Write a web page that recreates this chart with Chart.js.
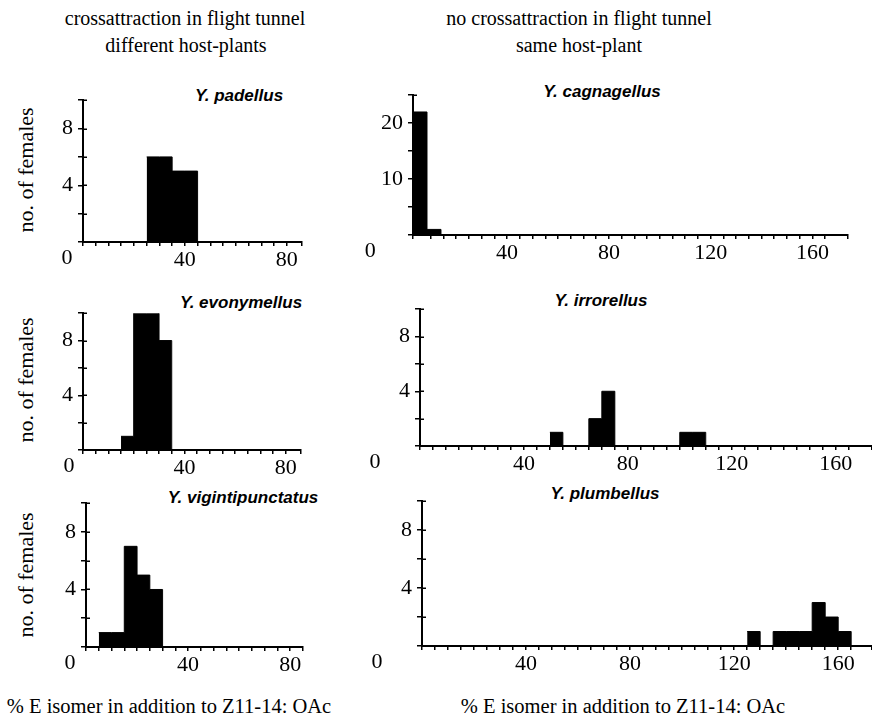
<!DOCTYPE html>
<html>
<head>
<meta charset="utf-8">
<title>Yponomeuta E-isomer histograms</title>
<script src="https://cdn.jsdelivr.net/npm/chart.js@4.4.1/dist/chart.umd.min.js"></script>
<style>
  html, body { margin: 0; padding: 0; background: #fff; overflow: hidden; }
  body { position: relative; width: 872px; height: 719px; font-family: "Liberation Serif", "Times New Roman", serif; color: #000; }
  .txt { position: absolute; white-space: nowrap; line-height: 1; transform: translate(-50%, -50%); }
  .head { font-size: 20px; }
  .foot { font-size: 20.5px; }
  .species { font-family: "Liberation Sans", Arial, sans-serif; font-weight: bold; font-style: italic; font-size: 17px; }
  .ylab { font-size: 22px; transform: translate(-50%, -50%) rotate(-90deg); }
  canvas { position: absolute; }
</style>
</head>
<body>

<div class="txt head" style="left:185px; top:18px;">crossattraction in flight tunnel</div>
<div class="txt head" style="left:186px; top:45px;">different host-plants</div>
<div class="txt head" style="left:579px; top:18px;">no crossattraction in flight tunnel</div>
<div class="txt head" style="left:579px; top:45px;">same host-plant</div>

<div class="txt ylab" style="left:26px; top:170px;">no. of females</div>
<div class="txt ylab" style="left:26px; top:380px;">no. of females</div>
<div class="txt ylab" style="left:26px; top:575px;">no. of females</div>

<div class="txt species" style="left:239px; top:95px;">Y. padellus</div>
<div class="txt species" style="left:602px; top:91px;">Y. cagnagellus</div>
<div class="txt species" style="left:241px; top:302px;">Y. evonymellus</div>
<div class="txt species" style="left:601px; top:300px;">Y. irrorellus</div>
<div class="txt species" style="left:243px; top:497px;">Y. vigintipunctatus</div>
<div class="txt species" style="left:605px; top:493px;">Y. plumbellus</div>

<div class="txt foot" style="left:169px; top:706px;">% E isomer in addition to Z11-14: OAc</div>
<div class="txt foot" style="left:623px; top:706px;">% E isomer in addition to Z11-14: OAc</div>

<canvas id="padellus"></canvas>
<canvas id="cagnagellus"></canvas>
<canvas id="evonymellus"></canvas>
<canvas id="irrorellus"></canvas>
<canvas id="vigintipunctatus"></canvas>
<canvas id="plumbellus"></canvas>

<script>
// --- data: bin edges (% E isomer) and no. of females in each bin ---
const padellusEdges = [25, 30, 35, 40, 45];
const padellusCounts = [6, 6, 5, 5];
const evonymellusEdges = [15, 20, 25, 30, 35];
const evonymellusCounts = [1, 10, 10, 8];
const vigintiEdges = [5, 10, 15, 20, 25, 30];
const vigintiCounts = [1, 1, 7, 5, 4];
const cagnagellusEdges = [3, 8.5, 14];
const cagnagellusCounts = [22, 1];
const irrorellusEdges = [50, 55, 65, 70, 75, 100, 105, 110];
const irrorellusCounts = [1, 0, 2, 4, 0, 1, 1];
const plumbellusEdges = [125, 130, 135, 140, 145, 150, 155, 160, 165];
const plumbellusCounts = [1, 0, 1, 1, 1, 3, 2, 1];

// tick labels
const leftXLabels = [40, 80];
const rightXLabels = [40, 80, 120, 160];
const femaleYLabels = [4, 8];
const cagnagellusYLabels = [10, 20];

(function () {
    'use strict';

    const AXIS_W = 60;   // space left of the plot for y labels
    const AXIS_H = 36;   // space under the plot for x labels
    const PAD_T = 12;
    const PAD_R = 12;
    const tickFont = { family: '"Liberation Serif", "Times New Roman", serif', size: 22 };

    // plot boxes [left, top, right, bottom] in page pixels
    const panels = [
        { id: 'padellus', edges: padellusEdges, counts: padellusCounts, xMin: 0, xMax: 86, yMax: 10, yStep: 2,
          xLabels: leftXLabels, yLabels: femaleYLabels, zeroShift: 16, box: [83, 94, 302, 242] },
        { id: 'evonymellus', edges: evonymellusEdges, counts: evonymellusCounts, xMin: 0, xMax: 86, yMax: 10, yStep: 2,
          xLabels: leftXLabels, yLabels: femaleYLabels, zeroShift: 14, box: [83, 307, 301, 450] },
        { id: 'vigintipunctatus', edges: vigintiEdges, counts: vigintiCounts, xMin: 0, xMax: 85, yMax: 10, yStep: 2,
          xLabels: leftXLabels, yLabels: femaleYLabels, zeroShift: 16, box: [86, 497, 303, 647] },
        { id: 'cagnagellus', edges: cagnagellusEdges, counts: cagnagellusCounts, xMin: 3, xMax: 174, yMax: 25, yStep: 5,
          xLabels: rightXLabels, yLabels: cagnagellusYLabels, zeroShift: 35, box: [413, 89, 848, 235] },
        { id: 'irrorellus', edges: irrorellusEdges, counts: irrorellusCounts, xMin: 0, xMax: 174, yMax: 10, yStep: 2,
          xLabels: rightXLabels, yLabels: femaleYLabels, zeroShift: 45, box: [420, 303, 872, 446] },
        { id: 'plumbellus', edges: plumbellusEdges, counts: plumbellusCounts, xMin: 0, xMax: 173, yMax: 10, yStep: 2,
          xLabels: rightXLabels, yLabels: femaleYLabels, zeroShift: 45, box: [422, 495, 872, 646] }
    ];

    // "0" sits to the left of the origin, as in the printed figure
    const zeroLabel = {
        id: 'zeroLabel',
        afterDraw: function (chart, args, opts) {
            const xs = chart.scales.x;
            const ctx = chart.ctx;
            ctx.save();
            ctx.font = tickFont.size + 'px ' + tickFont.family;
            ctx.fillStyle = '#000';
            ctx.textAlign = 'center';
            ctx.textBaseline = 'top';
            ctx.fillText('0', xs.getPixelForValue(0) - opts.shift, xs.top + 5);
            ctx.restore();
        }
    };

    // y ticks poke a little into the plot as well
    const innerTicks = {
        id: 'innerTicks',
        afterDraw: function (chart) {
            const ys = chart.scales.y;
            const ctx = chart.ctx;
            ctx.save();
            ctx.strokeStyle = '#000';
            ctx.lineWidth = 1.5;
            ys.ticks.forEach(function (t) {
                if (t.value === 0) return;
                const py = Math.round(ys.getPixelForValue(t.value)) + 0.25;
                ctx.beginPath();
                ctx.moveTo(ys.right, py);
                ctx.lineTo(ys.right + 4, py);
                ctx.stroke();
            });
            ctx.restore();
        }
    };

    panels.forEach(function (p) {
        const canvas = document.getElementById(p.id);
        const w = p.box[2] - p.box[0] + AXIS_W + PAD_R;
        const h = p.box[3] - p.box[1] + PAD_T + AXIS_H;
        canvas.width = w;
        canvas.height = h;
        canvas.style.width = w + 'px';
        canvas.style.height = h + 'px';
        canvas.style.left = (p.box[0] - AXIS_W) + 'px';
        canvas.style.top = (p.box[1] - PAD_T) + 'px';

        // step outline: each count holds from its edge to the next edge
        const points = p.edges.map(function (x, i) {
            return { x: x, y: i < p.counts.length ? p.counts[i] : 0 };
        });

        new Chart(canvas, {
            type: 'line',
            data: {
                datasets: [{
                    data: points,
                    stepped: 'before',
                    fill: 'origin',
                    backgroundColor: '#000',
                    borderColor: '#000',
                    borderWidth: 1,
                    pointRadius: 0
                }]
            },
            options: {
                responsive: false,
                animation: false,
                devicePixelRatio: 1,
                events: [],
                layout: { padding: { left: 0, top: PAD_T, right: PAD_R, bottom: 0 } },
                plugins: {
                    legend: { display: false },
                    tooltip: { enabled: false },
                    zeroLabel: { shift: p.zeroShift }
                },
                scales: {
                    x: {
                        type: 'linear',
                        min: p.xMin,
                        max: p.xMax,
                        afterFit: function (scale) { scale.height = AXIS_H; },
                        border: { color: '#000', width: 2 },
                        grid: { drawOnChartArea: false, color: '#000', lineWidth: 1.5, tickLength: 4 },
                        ticks: {
                            stepSize: 5,
                            autoSkip: false,
                            maxRotation: 0,
                            padding: 1,
                            color: '#000',
                            font: tickFont,
                            callback: function (v) {
                                return p.xLabels.indexOf(v) >= 0 ? String(v) : '';
                            }
                        }
                    },
                    y: {
                        min: 0,
                        max: p.yMax,
                        afterFit: function (scale) { scale.width = AXIS_W; },
                        border: { color: '#000', width: 2 },
                        grid: { drawOnChartArea: false, color: '#000', lineWidth: 1.5, tickLength: 5 },
                        ticks: {
                            stepSize: p.yStep,
                            autoSkip: false,
                            padding: 5,
                            color: '#000',
                            font: tickFont,
                            callback: function (v) {
                                return p.yLabels.indexOf(v) >= 0 ? String(v) : '';
                            }
                        }
                    }
                }
            },
            plugins: [zeroLabel, innerTicks]
        });
    });
})();
</script>
</body>
</html>
